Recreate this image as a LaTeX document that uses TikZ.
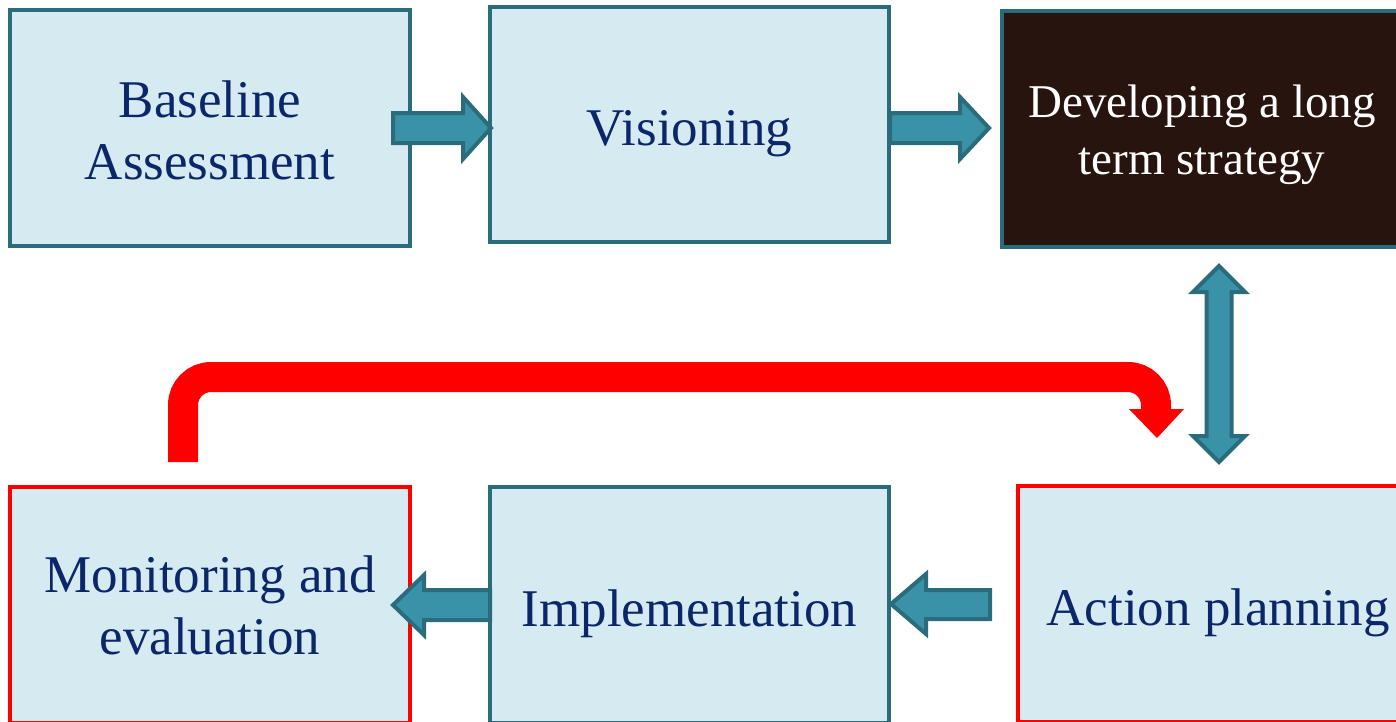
\documentclass[tikz,border=0pt]{standalone}
\usepackage{fontspec}
\setmainfont{Liberation Serif}
\definecolor{boxfill}{HTML}{D5EAF1}
\definecolor{boxedge}{HTML}{2B6C7C}
\definecolor{arrowfill}{HTML}{3A92A8}
\definecolor{darkfill}{HTML}{27140F}
\definecolor{labelblue}{HTML}{0C2769}
\definecolor{loopred}{HTML}{FF0000}
\begin{document}
\begin{tikzpicture}[x=1pt,y=-1pt,
  stage/.style={draw=boxedge, fill=boxfill, line width=4pt, text=labelblue,
    align=center, inner sep=0pt, minimum width=400pt, minimum height=236pt,
    font=\fontsize{53}{62}\selectfont},
  oneline/.style={text height=42pt, text depth=0pt},
  keystage/.style={stage, fill=darkfill},
  keylabel/.style={text=white, align=center, inner sep=0pt,
    font=\fontsize{47}{57}\selectfont},
  reviewstage/.style={stage, draw=loopred},
  blockarrow/.style={draw=boxedge, fill=arrowfill, line width=4pt, line join=miter},
  loop/.style={draw=loopred, line width=30pt, rounded corners=28pt}]
\useasboundingbox (0,0) rectangle (1396,721);
\clip (0,0) rectangle (1396,721);

% top row
\node[stage] (base) at (210,128) {};
\node[text=labelblue, align=center, inner sep=0pt, font=\fontsize{53}{62}\selectfont]
  (baselabel) at ([yshift=-2pt]base.center) {Baseline\\Assessment};
\node[stage, oneline, minimum width=399pt, minimum height=235pt] (vis) at (689.5,124.5) {Visioning};
\node[keystage] (dev) at (1202,129) {};
\node[keylabel] (devlabel) at ([yshift=-6pt]dev.center) {Developing a long\\term strategy};

% bottom row
\node[reviewstage] (mon) at (210,605) {Monitoring and\\evaluation};
\node[stage, oneline, minimum width=399pt] (impl) at (689.5,605) {Implementation};
\node[reviewstage, oneline] (act) at (1218,604) {Action planning};

% block arrows between stages
\draw[blockarrow] (393,113) -- (463,113) -- (463,97) -- (491,128) -- (463,159) -- (463,143) -- (393,143) -- cycle;
\draw[blockarrow] (890,113) -- (960,113) -- (960,97) -- (989,128) -- (960,159) -- (960,143) -- (890,143) -- cycle;
\draw[blockarrow] (1206.5,292) -- (1193,292) -- (1219,266) -- (1245,292) -- (1231.5,292)
  -- (1231.5,436) -- (1245,436) -- (1219,462) -- (1193,436) -- (1206.5,436) -- cycle;
\draw[blockarrow] (990,590) -- (926,590) -- (926,574) -- (891,604) -- (926,634) -- (926,619) -- (990,619) -- cycle;
\draw[blockarrow] (490,590) -- (424,590) -- (424,575) -- (393,605) -- (424,635) -- (424,620) -- (490,620) -- cycle;

% feedback loop from monitoring back to action planning
\coordinate (loopstart) at (183,462);
\coordinate (loopend) at (1156,411);
\draw[loop] (loopstart) -- (loopstart |- 0,377) -- (loopend |- 0,377) -- (loopend);
\fill[loopred] (1129,409) -- (1184,409) -- (1157,438) -- cycle;
\end{tikzpicture}
\end{document}
